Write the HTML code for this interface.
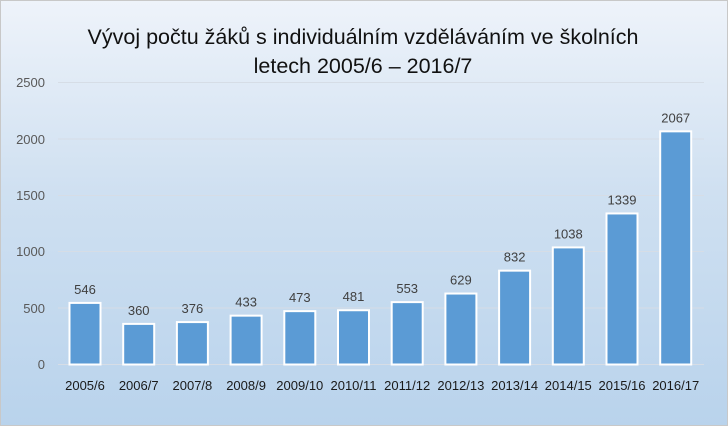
<!DOCTYPE html>
<html><head><meta charset="utf-8"><style>
body{margin:0}
#c{width:726px;height:424px;border:1px solid #c8c8c8;background:linear-gradient(180deg,#eef3fa 0%,#cfe0f1 45%,#b9d3ec 100%);position:relative;overflow:hidden;font-family:"Liberation Sans",sans-serif}
</style></head><body><div id="c">
<svg width="726" height="424" style="position:absolute;left:0;top:0">
<text x="362" y="43" text-anchor="middle" font-size="21.5" fill="#111">Vývoj počtu žáků s individuálním vzděláváním ve školních</text>
<text x="362" y="72" text-anchor="middle" font-size="21.5" fill="#111">letech 2005/6 – 2016/7</text>
<g stroke="#d6dde6" stroke-width="1">
<line x1="57" x2="703" y1="81.5" y2="81.5"/><line x1="57" x2="703" y1="138" y2="138"/>
<line x1="57" x2="703" y1="194.5" y2="194.5"/><line x1="57" x2="703" y1="250.5" y2="250.5"/>
<line x1="57" x2="703" y1="307" y2="307"/><line x1="57" x2="703" y1="363.5" y2="363.5"/>
</g>
<g font-size="13" fill="#595959" text-anchor="end">
<text x="44" y="86">2500</text><text x="44" y="143">2000</text><text x="44" y="199">1500</text>
<text x="44" y="255">1000</text><text x="44" y="312">500</text><text x="44" y="368">0</text>
</g>
<g id="bars"></g>
</svg>
<script>
var v=[546,360,376,433,473,481,553,629,832,1038,1339,2067],l=["2005/6","2006/7","2007/8","2008/9","2009/10","2010/11","2011/12","2012/13","2013/14","2014/15","2015/16","2016/17"];
var s="",g=document.getElementById("bars");
for(var i=0;i<12;i++){var cx=84+i*53.7,h=v[i]*0.1128,y=363.5-h;
s+='<rect x="'+(cx-15.5)+'" y="'+y+'" width="31" height="'+h+'" fill="#5b9bd5" stroke="#fff" stroke-width="2"/>';
s+='<text x="'+cx+'" y="'+(y-9)+'" text-anchor="middle" font-size="13" fill="#404040">'+v[i]+'</text>';
s+='<text x="'+cx+'" y="389" text-anchor="middle" font-size="13" fill="#1a1a1a">'+l[i]+'</text>';}
g.innerHTML=s;
</script>
</div></body></html>
